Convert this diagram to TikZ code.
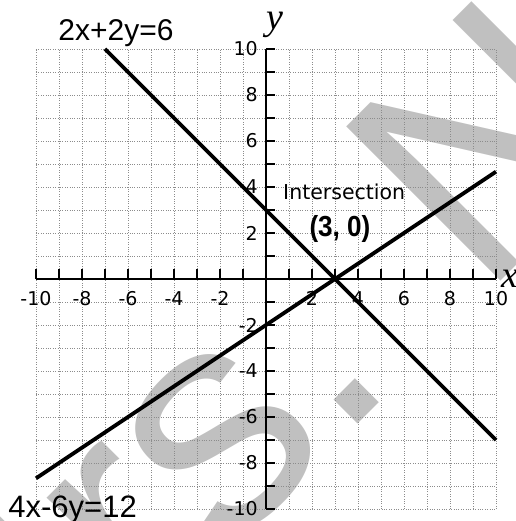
\documentclass[tikz,border=0pt]{standalone}
\usepackage{fontspec}
\setmainfont{Liberation Sans}
\newfontfamily\dejavu{DejaVu Sans}
\newfontfamily\timesf{Liberation Serif}
\definecolor{wm}{RGB}{192,192,192}
\begin{document}
\begin{tikzpicture}[x=23pt,y=23pt,
  gridline/.style={black!45, line width=0.5pt, dash pattern=on 0.8pt off 1.6pt},
  axisline/.style={black, line width=1.6pt},
  tickmark/.style={black, line width=1.4pt},
  graphline/.style={black, line width=3.8pt},
  numlabel/.style={font=\dejavu\fontsize{19}{19}\selectfont, inner sep=0pt},
  eqlabel/.style={font=\fontsize{30}{30}\selectfont, inner sep=0pt, anchor=base},
  axislabel/.style={font=\timesf\itshape\fontsize{38}{38}\selectfont, inner sep=0pt, anchor=base}]
\useasboundingbox (-266pt,-242pt) rectangle (249pt,279pt);
\clip (-266pt,-242pt) rectangle (249pt,279pt);
% watermark
\node[font=\fontsize{317}{317}\selectfont, text=wm, rotate=45, anchor=base east, inner sep=0pt] (wmark) at (379pt,142pt) {Mrs. N};
% grid
\foreach \i in {-10,...,10} {
  \draw[gridline] (\i,-10) -- (\i,10);
  \draw[gridline] (-10,\i) -- (10,\i);
}
% axes
\coordinate (xl) at (-10,0);
\coordinate (xr) at (10,0);
\coordinate (yb) at (0,-10);
\coordinate (yt) at (0,10);
\draw[axisline] (xl) -- (xr);
\draw[axisline] (yb) -- (yt);
\foreach \i in {-10,...,10} {
  \draw[tickmark] (\i,0) -- ++(0,10pt);
  \draw[tickmark] (0,\i) -- ++(9pt,0);
}
% tick labels
\foreach \i in {-10,-8,-6,-4,-2,2,4,6,8,10} {
  \node[numlabel, anchor=north] (xt\i) at (\i,-0.52) {\i};
  \node[numlabel, anchor=east] (yt\i) at (-0.35,\i) {\i};
}
% axis names
\node[axislabel] (ylab) at (0.39,10.83) {y};
\node[axislabel] (xlab) at (10.61,-0.35) {x};
% text labels
\node[font=\dejavu\fontsize{20.5}{20.5}\selectfont, anchor=base west, inner sep=0pt] (inter) at (0.74,3.435) {Intersection};
\node[eqlabel, font=\bfseries\fontsize{29}{29}\selectfont] (pt) at (3.217,1.826) {\scalebox{0.9}[1]{(3, 0)}};
\node[eqlabel] (eq1) at (-6.52,10.39) {2x+2y=6};
\node[eqlabel, font=\fontsize{31}{31}\selectfont] (eq2) at (-8.41,-10.39) {4x-6y=12};
% lines
\coordinate (l1a) at (-7,10);
\coordinate (l1b) at (10,-7);
\coordinate (l2a) at (-10,-26/3);
\coordinate (l2b) at (10,14/3);
\draw[graphline] (l1a) -- (l1b);
\draw[graphline] (l2a) -- (l2b);
\end{tikzpicture}
\end{document}
